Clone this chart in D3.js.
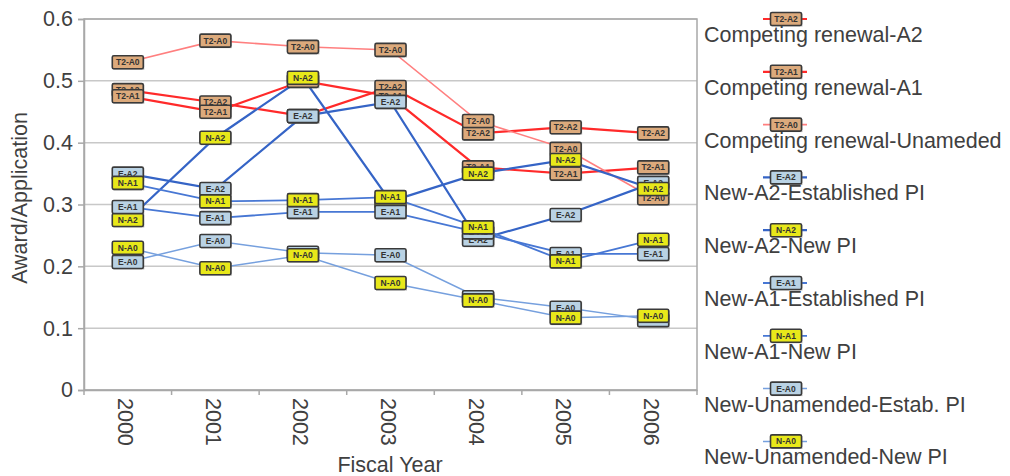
<!DOCTYPE html>
<html>
<head>
<meta charset="utf-8">
<script src="https://cdn.jsdelivr.net/npm/d3@7"></script>
<style>
  body { margin: 0; background: #fff; }
  svg { display: block; font-family: "Liberation Sans", Arial, sans-serif; }
</style>
</head>
<body>
<svg id="chart" width="1010" height="476"></svg>
<script>
// data
var years = ["2000", "2001", "2002", "2003", "2004", "2005", "2006"];
var yTicks = [0, 0.1, 0.2, 0.3, 0.4, 0.5, 0.6];
var yTickLabels = ["0", "0.1", "0.2", "0.3", "0.4", "0.5", "0.6"];
var seriesNames = ["Competing renewal-A2", "Competing renewal-A1", "Competing renewal-Unameded",
  "New-A2-Established PI", "New-A2-New PI", "New-A1-Established PI", "New-A1-New PI",
  "New-Unamended-Estab. PI", "New-Unamended-New PI"];
var seriesCodes = ["T2-A2", "T2-A1", "T2-A0", "E-A2", "N-A2", "E-A1", "N-A1", "E-A0", "N-A0"];
var t2A2 = [0.485, 0.465, 0.443, 0.49, 0.415, 0.425, 0.415];
var t2A1 = [0.475, 0.45, 0.50, 0.475, 0.36, 0.35, 0.36];
var t2A0 = [0.53, 0.565, 0.555, 0.55, 0.435, 0.39, 0.31];
var eA2 = [0.35, 0.325, 0.443, 0.466, 0.243, 0.283, 0.335];
var nA2 = [0.275, 0.408, 0.505, 0.305, 0.35, 0.372, 0.325];
var eA1 = [0.296, 0.278, 0.288, 0.288, 0.255, 0.22, 0.22];
var nA1 = [0.335, 0.305, 0.307, 0.312, 0.263, 0.208, 0.243];
var eA0 = [0.207, 0.241, 0.222, 0.218, 0.15, 0.133, 0.113];
var nA0 = [0.23, 0.197, 0.218, 0.173, 0.145, 0.117, 0.12];
var seriesValues = [t2A2, t2A1, t2A0, eA2, nA2, eA1, nA1, eA0, nA0];

// styles per series
var lineColor = ["#ff2a2a", "#ff2a2a", "#ff7f7f", "#3564c6", "#3564c6", "#4777d4", "#4777d4", "#76a0de", "#76a0de"];
var lineWidth = [2.2, 2.2, 1.6, 2.2, 2.2, 1.8, 1.8, 1.5, 1.5];
var boxFill = function(code) {
  if (code[0] == "T") return "#dcaa7c";
  if (code[0] == "E") return "#b9d2e4";
  return "#e8e81a";
};
var fs = 21.5;

var svg = d3.select("#chart");
var margin = {top: 19, left: 84, right: 697, bottom: 390};

var x = d3.scaleBand().domain(years).range([margin.left, margin.right]).padding(0);
var y = d3.scaleLinear().domain([0, 0.6]).range([margin.bottom, margin.top]);

// gridlines
svg.append("g").selectAll("line").data(yTicks).enter().append("line")
  .attr("x1", margin.left).attr("x2", margin.right)
  .attr("y1", function(d) { return y(d); }).attr("y2", function(d) { return y(d); })
  .attr("stroke", "#c8c8c8").attr("stroke-width", 1.5);

// plot frame
svg.append("rect")
  .attr("x", margin.left).attr("y", margin.top)
  .attr("width", margin.right - margin.left).attr("height", margin.bottom - margin.top)
  .attr("fill", "none").attr("stroke", "#a8a8a8").attr("stroke-width", 1.5);

// y axis
var yAxis = d3.axisLeft(y).tickValues(yTicks)
  .tickFormat(function(d, i) { return yTickLabels[i]; })
  .tickSize(6).tickPadding(5);
var gy = svg.append("g").attr("transform", "translate(" + margin.left + ",0)").call(yAxis);
gy.select(".domain").attr("stroke", "#a8a8a8").attr("stroke-width", 1.5);
gy.selectAll(".tick line").attr("stroke", "#a8a8a8").attr("stroke-width", 1.5);
gy.selectAll(".tick text").attr("font-size", fs).attr("fill", "#404040");

// x axis: ticks on band edges, labels at band centres
var xAxis = d3.axisBottom(x).tickSize(0).tickPadding(0);
var gx = svg.append("g").attr("transform", "translate(0," + margin.bottom + ")").call(xAxis);
gx.select(".domain").attr("stroke", "#a8a8a8").attr("stroke-width", 1.5);
gx.selectAll(".tick text")
  .attr("font-size", fs).attr("fill", "#404040")
  .attr("text-anchor", "start")
  .attr("transform", "translate(-2,8) rotate(90)")
  .attr("x", 0).attr("y", 0).attr("dy", "0.35em");
svg.append("g").selectAll("line").data(years.concat(["end"])).enter().append("line")
  .attr("x1", function(d, i) { return margin.left + i * x.bandwidth(); })
  .attr("x2", function(d, i) { return margin.left + i * x.bandwidth(); })
  .attr("y1", margin.bottom).attr("y2", margin.bottom + 5)
  .attr("stroke", "#a8a8a8").attr("stroke-width", 1.5);

// axis titles
svg.append("text").attr("x", 390).attr("y", 472).attr("text-anchor", "middle")
  .attr("font-size", fs).attr("fill", "#404040").text("Fiscal Year");
svg.append("text").attr("transform", "translate(27,198) rotate(-90)").attr("text-anchor", "middle")
  .attr("font-size", fs).attr("fill", "#404040").text("Award/Application");

var cx = function(i) { return x(years[i]) + x.bandwidth() / 2; };
var line = d3.line().x(function(d, i) { return cx(i); }).y(function(d) { return y(d); });

// lines
svg.append("g").selectAll("path").data(seriesValues).enter().append("path")
  .attr("d", line)
  .attr("fill", "none")
  .attr("stroke", function(d, i) { return lineColor[i]; })
  .attr("stroke-width", function(d, i) { return lineWidth[i]; });

// label-box markers
var bw = 31, bh = 13;
function drawBox(g, px, py, code) {
  g.append("rect").attr("x", px - bw / 2 + 1).attr("y", py - bh / 2 + 1)
    .attr("width", bw).attr("height", bh).attr("fill", "#777").attr("opacity", 0.5);
  g.append("rect").attr("x", px - bw / 2).attr("y", py - bh / 2)
    .attr("width", bw).attr("height", bh).attr("rx", 1.5)
    .attr("fill", boxFill(code)).attr("stroke", "#3a3a3a").attr("stroke-width", 1.6);
  g.append("text").attr("x", px).attr("y", py).attr("dy", "0.35em")
    .attr("text-anchor", "middle").attr("font-size", 8.5).attr("font-weight", "bold")
    .attr("fill", "#333").text(code);
}

var markers = svg.append("g");
seriesValues.forEach(function(vals, s) {
  vals.forEach(function(v, i) { drawBox(markers, cx(i), y(v), seriesCodes[s]); });
});

// legend
var legend = svg.append("g");
seriesNames.forEach(function(name, i) {
  var my = 19 + i * 52.8;
  legend.append("line").attr("x1", 763).attr("x2", 807).attr("y1", my).attr("y2", my)
    .attr("stroke", lineColor[i]).attr("stroke-width", lineWidth[i]);
  drawBox(legend, 786, my, seriesCodes[i]);
  legend.append("text").attr("x", 704).attr("y", my + 23)
    .attr("font-size", fs).attr("fill", "#404040").text(name);
});
</script>
</body>
</html>
